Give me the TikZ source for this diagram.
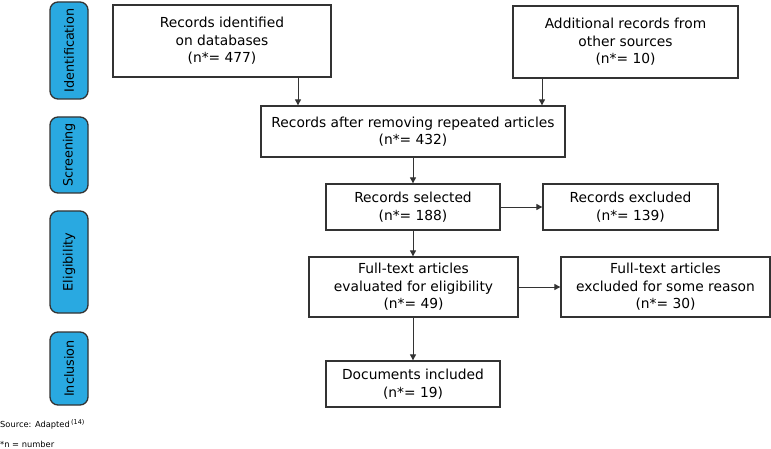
\documentclass[tikz,border=0pt]{standalone}
\usepackage{fontspec}
\setmainfont{DejaVu Sans}
\usetikzlibrary{arrows.meta}
\definecolor{stageblue}{HTML}{29A9E1}
\definecolor{edge}{HTML}{333333}
\begin{document}
\begin{tikzpicture}[x=1pt,y=-1pt,
  box/.style={draw=edge,line width=1.3pt,fill=white,inner sep=0pt,align=center,
    font=\fontsize{13.8}{17.5}\selectfont},
  stage/.style={draw=edge,line width=1.3pt,fill=stageblue,rounded corners=8pt,inner sep=0pt},
  stagetext/.style={rotate=90,font=\fontsize{12.8}{15}\selectfont,inner sep=0pt},
  arr/.style={draw=edge,line width=0.9pt,-{Triangle[length=6pt,width=6pt]}},
  note/.style={anchor=west,inner sep=0pt,font=\fontsize{8.3}{10}\selectfont}]
\useasboundingbox (0,0) rectangle (771,449);
% stages
\path[stage] (50,2) rectangle (88,99);
\node[stagetext] (sid) at (69,50.5) {Identification};
\path[stage] (50,117) rectangle (88,193);
\node[stagetext] (ssc) at (69,155) {Screening};
\path[stage] (50,211) rectangle (88,313);
\node[stagetext] (sel) at (69,262) {Eligibility};
\path[stage] (50,332) rectangle (88,405);
\node[stagetext] (sin) at (69,368.5) {Inclusion};
% boxes
\node[box,minimum width=218pt,minimum height=72pt] (b1) at (222,41) {Records identified\\on databases\\(n*= 477)};
\node[box,minimum width=225pt,minimum height=72pt] (b2) at (625.5,42) {Additional records from\\other sources\\(n*= 10)};
\node[box,minimum width=304pt,minimum height=51pt] (b3) at (413,131.5) {Records after removing repeated articles\\(n*= 432)};
\node[box,minimum width=174pt,minimum height=46pt] (b4) at (413,207) {Records selected\\(n*= 188)};
\node[box,minimum width=175pt,minimum height=46pt] (b5) at (630.5,207) {Records excluded\\(n*= 139)};
\node[box,minimum width=209pt,minimum height=60pt] (b6) at (413.5,287) {Full-text articles\\evaluated for eligibility\\(n*= 49)};
\node[box,minimum width=209pt,minimum height=60pt] (b7) at (665.5,287) {Full-text articles\\excluded for some reason\\(n*= 30)};
\node[box,minimum width=174pt,minimum height=46pt] (b8) at (413,384) {Documents included\\(n*= 19)};
% arrows
\draw[arr] (b1.south -| 298,0) -- (b3.north -| 298,0);
\draw[arr] (b2.south -| 542,0) -- (b3.north -| 542,0);
\draw[arr] (b3.south -| b4) -- (b4.north);
\draw[arr] (b4.east) -- (b5.west);
\draw[arr] (b4.south) -- (b6.north -| b4);
\draw[arr] (b6.east) -- (b7.west);
\draw[arr] (b6.south -| b8) -- (b8.north);
% notes
\node[note] (src) at (0,424) {Source: Adapted\,{\fontsize{6.5}{7}\selectfont\raisebox{3pt}{(14)}}};
\node[note] (nn) at (0,444) {*n = number};
\end{tikzpicture}
\end{document}
